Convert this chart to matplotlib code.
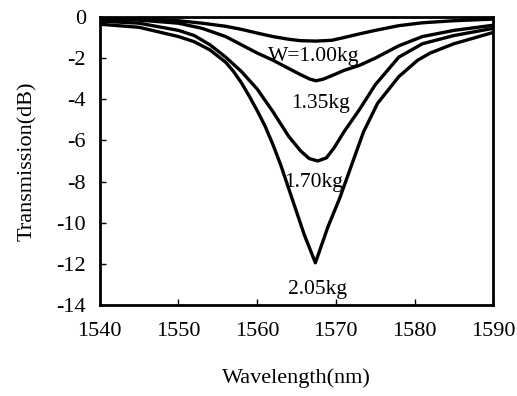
import matplotlib
matplotlib.use('Agg')
import matplotlib.pyplot as plt

plt.rcParams['font.family'] = 'Liberation Serif'
plt.rcParams['axes.unicode_minus'] = False

# wavelength (nm) / transmission (dB)
wl_100 = [1540, 1545, 1550, 1553, 1556, 1558, 1560, 1562, 1564, 1565.5, 1567.5,
          1569.5, 1571, 1573, 1575, 1578, 1581, 1585, 1590]
tr_100 = [-0.05, -0.1, -0.18, -0.3, -0.45, -0.6, -0.78, -0.95, -1.08, -1.15, -1.17,
          -1.13, -1.0, -0.82, -0.65, -0.42, -0.28, -0.18, -0.1]

wl_135 = [1540, 1545, 1550, 1553, 1556, 1558, 1560, 1562, 1564, 1565.5, 1566.7, 1567.5,
          1568.4, 1569.5, 1571, 1573, 1575, 1578, 1581, 1585, 1590]
tr_135 = [-0.1, -0.15, -0.3, -0.55, -0.95, -1.35, -1.75, -2.1, -2.5, -2.8, -3.02, -3.1,
          -3.02, -2.85, -2.6, -2.35, -2.0, -1.4, -0.95, -0.65, -0.4]

wl_170 = [1540, 1545, 1550, 1552, 1554, 1556, 1558, 1560, 1562, 1564, 1565.5, 1566.6,
          1567.7, 1568.8, 1569.8, 1571, 1573, 1575, 1578, 1581, 1585, 1590]
tr_170 = [-0.2, -0.3, -0.65, -0.9, -1.35, -1.95, -2.65, -3.5, -4.6, -5.8, -6.5, -6.88,
          -7.0, -6.85, -6.35, -5.6, -4.5, -3.3, -1.95, -1.3, -0.9, -0.55]

wl_205 = [1540, 1545, 1550, 1552, 1554, 1556, 1557, 1558, 1559, 1560, 1561, 1562,
          1563, 1564.5, 1566, 1567.4, 1569, 1570.5, 1572, 1573.5, 1575.3, 1578,
          1580.4, 1582, 1585, 1590]
tr_205 = [-0.35, -0.5, -0.95, -1.2, -1.6, -2.2, -2.65, -3.2, -3.85, -4.55, -5.3, -6.2,
          -7.2, -8.9, -10.6, -11.95, -10.2, -8.8, -7.2, -5.6, -4.2, -2.9,
          -2.1, -1.75, -1.3, -0.75]

labels = ['W=1.00kg', '1.35kg', '1.70kg', '2.05kg']
label_pos = [(1567.2, -1.94), (1568.0, -4.2), (1567.2, -8.05), (1567.7, -13.25)]

fig = plt.figure(figsize=(5.17, 3.96), dpi=100)
ax = fig.add_axes([0.193, 0.23, 0.761, 0.727])

for wl, tr in [(wl_100, tr_100), (wl_135, tr_135), (wl_170, tr_170), (wl_205, tr_205)]:
    ax.plot(wl, tr, color='k', linewidth=2.4, solid_joinstyle='round')

for text, (x, y) in zip(labels, label_pos):
    ax.text(x, y, text, ha='center', va='center', fontsize=15.5)

ax.set_xlim(1540, 1590)
ax.set_ylim(-14, 0)
ax.set_xticks(range(1540, 1591, 10))
ax.set_yticks(range(-14, 1, 2))
ax.tick_params(direction='in', length=4, width=1, labelsize=16)
ax.tick_params(axis='x', pad=12)
ax.tick_params(axis='y', pad=10)
for s in ax.spines.values():
    s.set_linewidth(2)

ax.set_xlabel('Wavelength(nm)', fontsize=16, labelpad=20)
ax.set_ylabel('Transmission(dB)', fontsize=16, labelpad=14)

fig.savefig('out.png', dpi=100)
